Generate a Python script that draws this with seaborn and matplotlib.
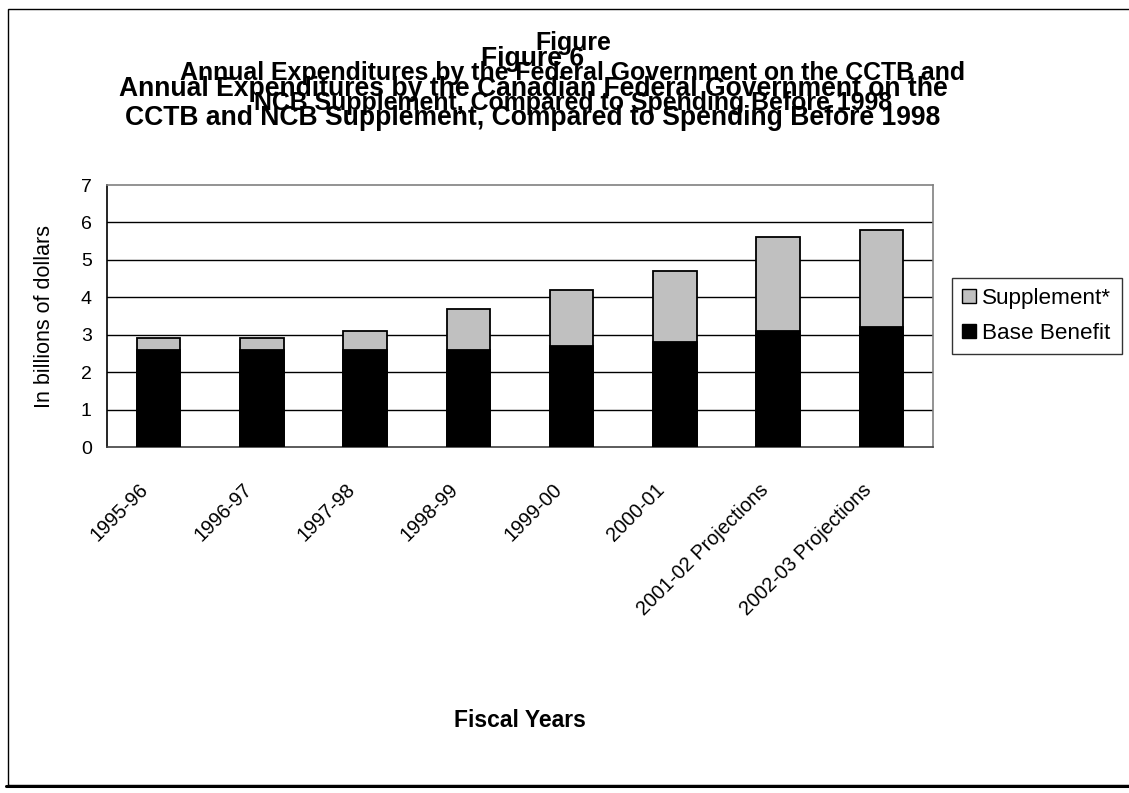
import numpy as np
import pandas as pd
import matplotlib
matplotlib.use("Agg")
import matplotlib.pyplot as plt
import matplotlib.transforms as mtransforms
from matplotlib.patches import Patch, Rectangle
from matplotlib.lines import Line2D
import seaborn as sns

# Fiscal years and spending (billions of dollars)
years = ["1995-96", "1996-97", "1997-98", "1998-99", "1999-00", "2000-01",
         "2001-02 Projections", "2002-03 Projections"]
base_benefit = [2.6, 2.6, 2.6, 2.6, 2.7, 2.8, 3.1, 3.2]
supplement = [0.3, 0.3, 0.5, 1.1, 1.5, 1.9, 2.5, 2.6]
y_ticks = [0, 1, 2, 3, 4, 5, 6, 7]

title_a = ["Figure",
           "Annual Expenditures by the Federal Government on the CCTB and",
           "NCB Supplement, Compared to Spending Before 1998"]
title_b = ["Figure 6",
           "Annual Expenditures by the Canadian Federal Government on the",
           "CCTB and NCB Supplement, Compared to Spending Before 1998"]

sns.set_style("white")
plt.rcParams["font.family"] = ["Liberation Sans", "DejaVu Sans"]
plt.rcParams["text.color"] = "black"
plt.rcParams["axes.labelcolor"] = "black"
plt.rcParams["xtick.color"] = "black"
plt.rcParams["ytick.color"] = "black"

W, H = 1129, 793
fig = plt.figure(figsize=(W / 100, H / 100), dpi=100)
fig.patch.set_facecolor("white")


def fx(px):
    return px / W


def fy(py):
    return 1 - py / H


ax_l, ax_r, ax_t, ax_b = 107, 933, 185, 447
ax = fig.add_axes([fx(ax_l), fy(ax_b), fx(ax_r - ax_l), (ax_b - ax_t) / H])

df = pd.DataFrame({"year": years, "base": base_benefit, "supp": supplement})
df["total"] = df["base"] + df["supp"]

GRAY = "#C0C0C0"
sns.barplot(data=df, x="year", y="total", color=GRAY, saturation=1, width=0.42,
            edgecolor="black", linewidth=1.3, errorbar=None, ax=ax, zorder=3)
sns.barplot(data=df, x="year", y="base", color="black", saturation=1, width=0.42,
            edgecolor="black", linewidth=1.3, errorbar=None, ax=ax, zorder=3)

ax.set_ylim(0, 7)
ax.set_xlim(-0.5, len(years) - 0.5)
ax.set_yticks(y_ticks)
ax.set_yticklabels([str(v) for v in y_ticks], fontsize=14)

# horizontal gridlines
for v in y_ticks[1:-1]:
    ax.axhline(v, color="black", linewidth=1, zorder=1)

# spines
for s in ["top", "right"]:
    ax.spines[s].set_color("#808080")
    ax.spines[s].set_linewidth(1.2)
ax.spines["left"].set_color("black")
ax.spines["left"].set_linewidth(1.2)
ax.spines["bottom"].set_color("#404040")
ax.spines["bottom"].set_linewidth(1.2)

# category ticks between bars, labels under bars
ax.set_xticks(np.arange(-0.5, len(years), 1), minor=True)
ax.tick_params(axis="x", which="minor", length=6, width=1, color="#404040",
               direction="out")
ax.tick_params(axis="x", which="major", length=0, pad=28.5, labelsize=14)
ax.tick_params(axis="y", which="major", length=5, width=1, color="black",
               direction="out", pad=6)
ax.set_xticks(range(len(years)))
ax.set_xticklabels(years, rotation=45, ha="right", va="center",
                   rotation_mode="anchor", fontsize=14.3)
shift = mtransforms.ScaledTranslation(-13 / 100, 0, fig.dpi_scale_trans)
for lab in ax.get_xticklabels():
    lab.set_transform(lab.get_transform() + shift)

ax.set_ylabel("In billions of dollars", fontsize=15.5)
ax.yaxis.set_label_coords((55 - ax_l) / (ax_r - ax_l), 0.5)
ax.set_xlabel("Fiscal Years", fontsize=16.5, fontweight="bold")
ax.xaxis.set_label_coords(0.5, (ax_b - 709) / (ax_b - ax_t))
ax.xaxis.label.set_va("top")

# legend
handles = [Patch(facecolor=GRAY, edgecolor="black", linewidth=1, label="Supplement*"),
           Patch(facecolor="black", edgecolor="black", linewidth=1, label="Base Benefit")]
leg = fig.legend(handles=handles, loc="center left",
                 bbox_to_anchor=(fx(952), fy(316)), fontsize=16.2,
                 handlelength=0.6, handleheight=0.6, handletextpad=0.3,
                 labelspacing=0.6, borderpad=0.45, borderaxespad=0,
                 frameon=True, fancybox=False)
leg.get_frame().set_edgecolor("black")
leg.get_frame().set_linewidth(1)

# overlapping titles
for txt, yb in zip(title_a, [50, 80, 110]):
    fig.text(fx(573), fy(yb), txt, ha="center", va="baseline",
             fontsize=17.9, fontweight="bold")
for txt, yb in zip(title_b, [66, 96, 125]):
    fig.text(fx(533), fy(yb), txt, ha="center", va="baseline",
             fontsize=19.1, fontweight="bold")

# chart area border
fig.add_artist(Rectangle((fx(8), fy(785)), 1.0, (785 - 9) / H,
                         transform=fig.transFigure, fill=False,
                         edgecolor="black", linewidth=1))
fig.add_artist(Line2D([fx(6), 1.0], [fy(786), fy(786)], transform=fig.transFigure,
                      color="black", linewidth=2.2))

fig.savefig("out.png", dpi=100, facecolor="white")
